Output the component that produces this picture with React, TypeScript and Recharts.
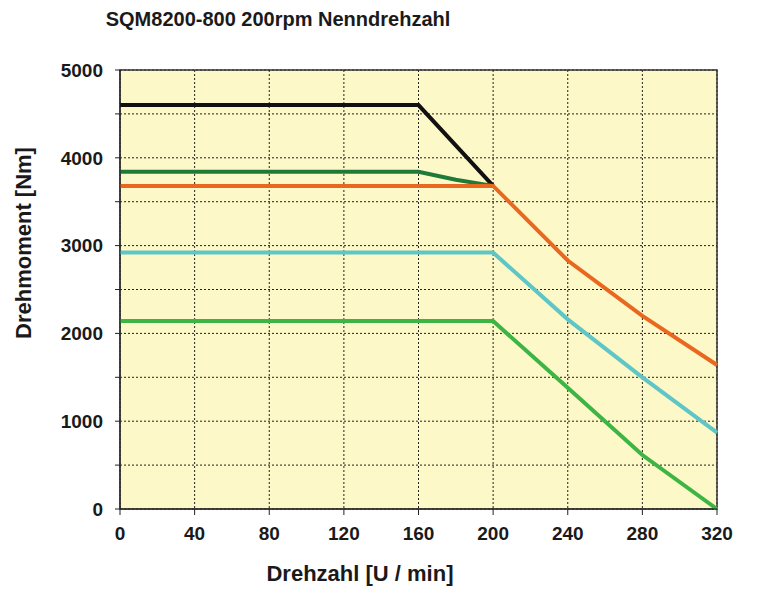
import { LineChart, Line, XAxis, YAxis, CartesianGrid, ReferenceArea } from 'recharts';

// Drehzahl-Stützpunkte [U/min] und Drehmoment [Nm] je Kennlinie
const blackSpeed = [0, 160, 200];
const blackTorque = [4600, 4600, 3680];

const darkGreenSpeed = [0, 160, 180, 200];
const darkGreenTorque = [3840, 3840, 3750, 3680];

const orangeSpeed = [0, 200, 240, 280, 320];
const orangeTorque = [3680, 3680, 2830, 2200, 1640];

const cyanSpeed = [0, 200, 240, 280, 320];
const cyanTorque = [2920, 2920, 2160, 1500, 870];

const greenSpeed = [0, 200, 240, 280, 320];
const greenTorque = [2140, 2140, 1380, 615, 0];

const xTicks = [0, 40, 80, 120, 160, 200, 240, 280, 320];
const yTicks = [0, 500, 1000, 1500, 2000, 2500, 3000, 3500, 4000, 4500, 5000];

const toPoints = (speed: number[], torque: number[]) =>
  speed.map((s, i) => ({ speed: s, torque: torque[i] }));

const series = [
  { key: 'black', color: '#111111', data: toPoints(blackSpeed, blackTorque) },
  { key: 'darkgreen', color: '#1f7a38', data: toPoints(darkGreenSpeed, darkGreenTorque) },
  { key: 'orange', color: '#e9671f', data: toPoints(orangeSpeed, orangeTorque) },
  { key: 'cyan', color: '#5ec6c6', data: toPoints(cyanSpeed, cyanTorque) },
  { key: 'green', color: '#3db544', data: toPoints(greenSpeed, greenTorque) },
];

const font = '"Liberation Sans", Arial, sans-serif';
const tickStyle = { fontSize: 19, fontWeight: 700, fill: '#1a1a1a', fontFamily: font };

export default function App() {
  return (
    <div style={{ position: 'absolute', left: 0, top: 0, width: 780, height: 591, background: '#fff', fontFamily: font }}>
      <div style={{ position: 'absolute', left: 0, width: 556, top: 8, textAlign: 'center', fontSize: 20, fontWeight: 700, color: '#1a1a1a' }}>
        SQM8200-800 200rpm Nenndrehzahl
      </div>
      <div
        style={{
          position: 'absolute', left: 24, top: 243, transform: 'translate(-50%, -50%) rotate(-90deg)',
          whiteSpace: 'nowrap', fontSize: 22, fontWeight: 700, color: '#1a1a1a',
        }}
      >
        Drehmoment [Nm]
      </div>
      <div style={{ position: 'absolute', left: 0, width: 720, top: 561, textAlign: 'center', fontSize: 22, fontWeight: 700, color: '#1a1a1a' }}>
        Drehzahl [U / min]
      </div>
      <LineChart width={780} height={591} margin={{ top: 70, right: 63, bottom: 52, left: 40 }}>
        <CartesianGrid fill="#fdf8c7" stroke="#222" strokeDasharray="2 2" strokeWidth={1} />
        <XAxis
          type="number"
          dataKey="speed"
          domain={[0, 320]}
          ticks={xTicks}
          allowDuplicatedCategory={false}
          height={30}
          tick={tickStyle}
          tickSize={6}
          tickMargin={12}
          stroke="#222"
        />
        <YAxis
          type="number"
          dataKey="torque"
          domain={[0, 5000]}
          ticks={yTicks}
          width={80}
          tick={tickStyle}
          tickSize={5}
          tickMargin={12}
          tickFormatter={(v: number) => (v % 1000 === 0 ? String(v) : '')}
          stroke="#222"
        />
        <ReferenceArea x1={0} x2={320} y1={0} y2={5000} fill="none" stroke="#333" strokeWidth={1.5} />
        {series.map((s) => (
          <Line
            key={s.key}
            data={s.data}
            dataKey="torque"
            type="linear"
            stroke={s.color}
            strokeWidth={4}
            dot={false}
            isAnimationActive={false}
          />
        ))}
      </LineChart>
    </div>
  );
}
